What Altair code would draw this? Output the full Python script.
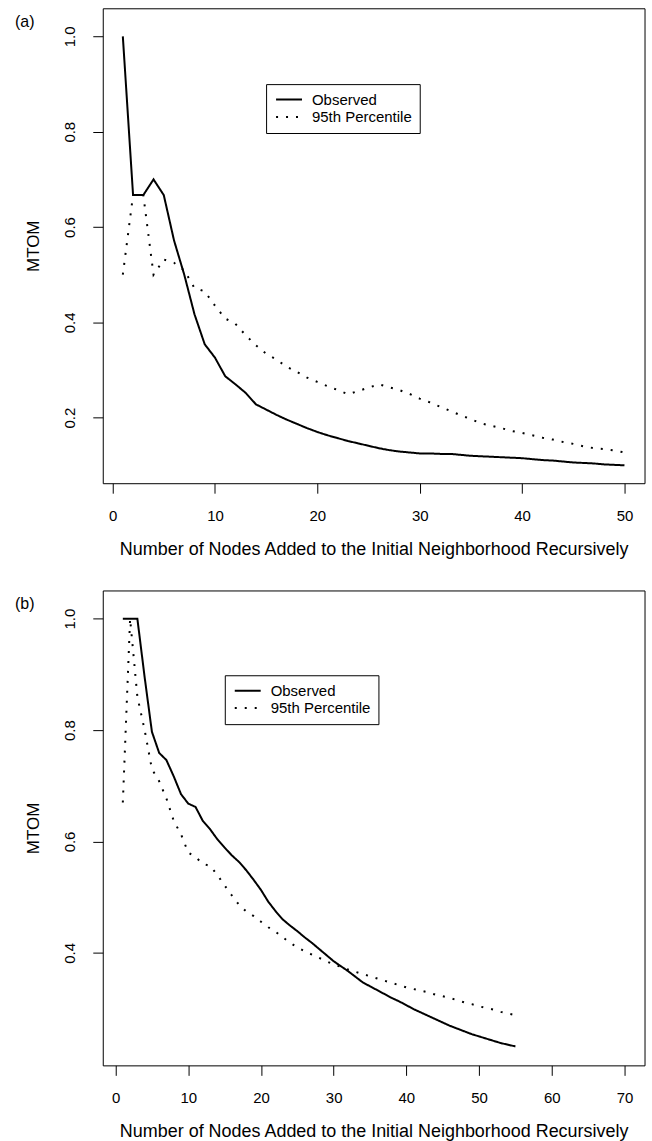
import altair as alt
import pandas as pd

FONT = "Liberation Sans"
series_names = ["Observed", "95th Percentile"]

# ---------------- panel (a) ----------------
x_a = list(range(1, 51))
obs_a = [1.0, 0.667, 0.667, 0.70, 0.667, 0.572, 0.50, 0.417, 0.354, 0.326,
         0.287, 0.270, 0.252, 0.228, 0.217, 0.206, 0.196, 0.187, 0.178, 0.170,
         0.163, 0.157, 0.151, 0.146, 0.141, 0.136, 0.132, 0.129, 0.127, 0.125,
         0.125, 0.124, 0.124, 0.122, 0.120, 0.119, 0.118, 0.117, 0.116, 0.115,
         0.113, 0.111, 0.110, 0.108, 0.106, 0.105, 0.104, 0.102, 0.101, 0.100]
pct_a = [0.50, 0.667, 0.667, 0.50, 0.532, 0.525, 0.509, 0.472, 0.465, 0.435,
         0.408, 0.397, 0.373, 0.352, 0.334, 0.322, 0.307, 0.296, 0.284, 0.275,
         0.266, 0.258, 0.249, 0.256, 0.263, 0.270, 0.264, 0.258, 0.250, 0.240,
         0.232, 0.223, 0.214, 0.205, 0.197, 0.188, 0.183, 0.178, 0.172, 0.168,
         0.163, 0.158, 0.154, 0.149, 0.145, 0.140, 0.136, 0.134, 0.131, 0.127]
x_ticks_a = [0, 10, 20, 30, 40, 50]
y_ticks_a = [0.2, 0.4, 0.6, 0.8, 1.0]

# ---------------- panel (b) ----------------
x_b = list(range(1, 56))
obs_b = [1.0, 1.0, 1.0, 0.895, 0.797, 0.759, 0.746, 0.717, 0.685, 0.668,
         0.662, 0.637, 0.622, 0.604, 0.589, 0.575, 0.563, 0.548, 0.531, 0.513,
         0.492, 0.475, 0.460, 0.449, 0.439, 0.428, 0.418, 0.407, 0.396, 0.385,
         0.376, 0.367, 0.357, 0.347, 0.340, 0.333, 0.326, 0.319, 0.313, 0.306,
         0.299, 0.293, 0.287, 0.281, 0.275, 0.269, 0.264, 0.259, 0.254, 0.250,
         0.246, 0.242, 0.238, 0.235, 0.232]
pct_b = [0.67, 1.0, 0.86, 0.80, 0.73, 0.708, 0.677, 0.637, 0.613, 0.580,
         0.572, 0.560, 0.556, 0.540, 0.521, 0.503, 0.486, 0.474, 0.466, 0.456,
         0.446, 0.438, 0.428, 0.418, 0.410, 0.403, 0.397, 0.391, 0.385, 0.379,
         0.375, 0.370, 0.366, 0.362, 0.358, 0.354, 0.350, 0.346, 0.342, 0.338,
         0.335, 0.332, 0.329, 0.325, 0.322, 0.319, 0.315, 0.311, 0.308, 0.304,
         0.301, 0.298, 0.294, 0.291, 0.288]
x_ticks_b = [0, 10, 20, 30, 40, 50, 60, 70]
y_ticks_b = [0.4, 0.6, 0.8, 1.0]

x_title = "Number of Nodes Added to the Initial Neighborhood Recursively"


def long_df(xs, obs, pct):
    return pd.DataFrame({
        "x": xs + xs,
        "value": obs + pct,
        "series": [series_names[0]] * len(xs) + [series_names[1]] * len(xs),
    })


def panel(df, xdom, ydom, xticks, yticks, w, h, leg_x, leg_y, tag):
    dash = alt.StrokeDash(
        "series:N",
        scale=alt.Scale(domain=series_names, range=[[1, 0], [2, 8]]),
        legend=alt.Legend(
            orient="none", legendX=leg_x, legendY=leg_y, title=None,
            symbolType="stroke", symbolSize=676, symbolStrokeWidth=2,
            symbolStrokeColor="black", clipHeight=17, rowPadding=0.4,
            padding=7, labelFontSize=15, labelFont=FONT, labelColor="black",
            labelOffset=9, symbolOffset=2, strokeColor="black", fillColor="white",
        ),
    )
    lines = alt.Chart(df).mark_line(color="black", strokeWidth=2).encode(
        x=alt.X("x:Q",
                scale=alt.Scale(domain=xdom, nice=False, zero=False),
                axis=alt.Axis(values=xticks, format="d", tickSize=10, tickColor="black",
                              tickWidth=1, labelFontSize=15, labelFont=FONT,
                              labelColor="black",
                              labelPadding=27, labelBaseline="alphabetic",
                              labelFlush=False, labelOverlap=False,
                              title=x_title, titleFont=FONT, titleFontSize=18,
                              titleFontWeight="normal", titleColor="black",
                              titleBaseline="alphabetic",
                              titleAlign="center", titleX=w / 2, titleY=71,
                              domain=False, grid=False)),
        y=alt.Y("value:Q",
                scale=alt.Scale(domain=ydom, nice=False, zero=False),
                axis=alt.Axis(values=yticks, format=".1f", tickSize=10, tickColor="black",
                              tickWidth=1, labelFontSize=15, labelFont=FONT,
                              labelColor="black",
                              labelAngle=270, labelAlign="center",
                              labelBaseline="alphabetic", labelPadding=18,
                              labelFlush=False, labelOverlap=False,
                              title="MTOM", titleFont=FONT, titleFontSize=17,
                              titleFontWeight="normal", titleColor="black",
                              titleAngle=270, titleAlign="center",
                              titleBaseline="alphabetic", titleX=-64, titleY=h / 2,
                              domain=False, grid=False)),
        strokeDash=dash,
    )
    tag_df = pd.DataFrame({"label": [tag]})
    label = alt.Chart(tag_df).mark_text(
        align="left", baseline="alphabetic", fontSize=16, font=FONT, color="black"
    ).encode(x=alt.value(-88), y=alt.value(18.5), text="label:N")
    return alt.layer(lines, label).properties(width=w, height=h)


pa = panel(long_df(x_a, obs_a, pct_a), [-0.96, 51.96], [0.0625, 1.059],
           x_ticks_a, y_ticks_a, 543, 476, 163.7, 76, "(a)")
pb = panel(long_df(x_b, obs_b, pct_b), [-1.76, 72.76], [0.198, 1.0507],
           x_ticks_b, y_ticks_b, 543, 476, 122.3, 85, "(b)")

chart = alt.vconcat(pa, pb, spacing=107.5, bounds="flush").resolve_scale(
    x="independent", y="independent", strokeDash="independent"
).resolve_legend(strokeDash="independent").properties(
    padding={"left": 14, "top": 6, "right": 6.5, "bottom": 2},
    background="white",
).configure_view(stroke="black", strokeWidth=1)

chart.save("out.html", embed_options={"renderer": "svg", "actions": False})
